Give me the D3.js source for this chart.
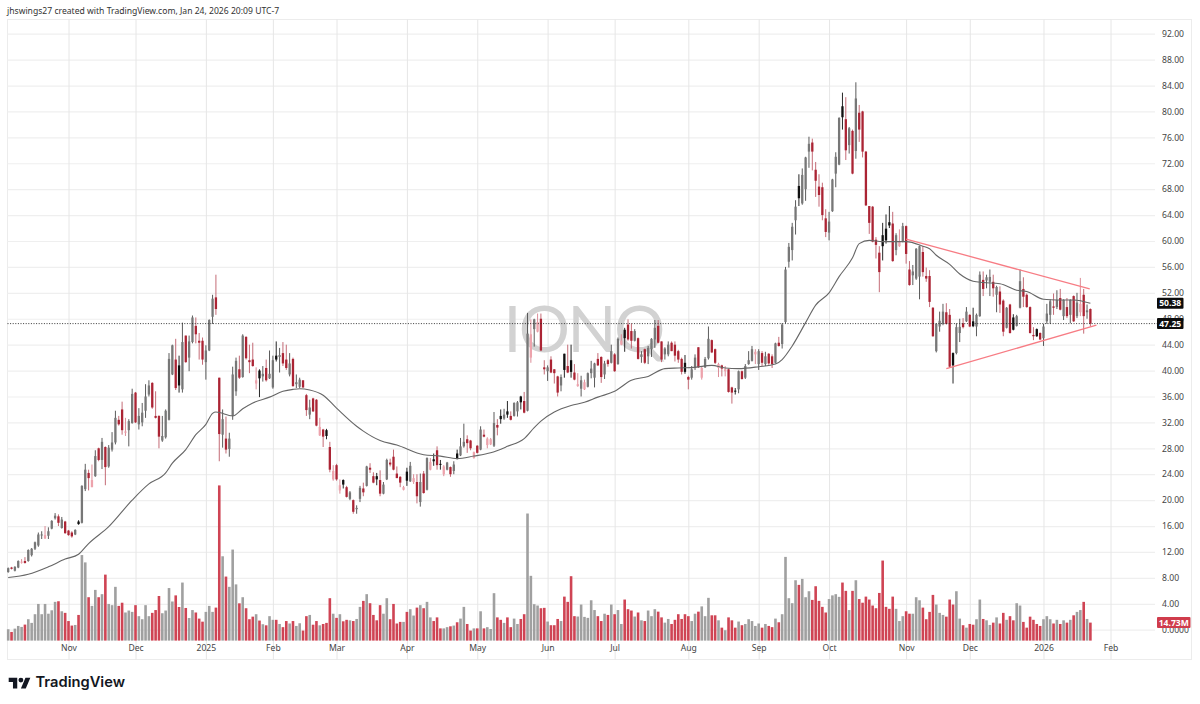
<!DOCTYPE html>
<html>
<head>
<meta charset="utf-8">
<script src="https://d3js.org/d3.v7.min.js"></script>
<style>
  html, body { margin: 0; padding: 0; background: #fff; }
  svg { display: block; }
  text { font-family: "Noto Sans", sans-serif; }
</style>
</head>
<body>
<div id="chart"></div>
<script>
// daily bars, Oct 8 2024 .. Jan 23 2026
const opens = [
  8.9,9.6,9.1,9.6,10.4,10.6,10.6,11.5,12.5,13,
  14.6,14.1,14.5,15.6,17.2,17.5,15.7,16.7,15.3,15,
  14.7,16.7,16.5,21.7,24.2,22,23.7,28,26.2,28.2,
  25.2,27.8,28.9,32.4,34,30.4,30.8,31.9,36.6,31.7,
  32,33.8,36.3,38.1,33,33,29.2,29.7,32.4,39.4,
  41.7,40.8,37.1,45.4,42,44.4,46.9,44.6,44.6,41.3,
  43.1,48.3,51.3,38.9,30.1,29.5,27.9,33,36.8,40.2,
  39,45.2,41.6,41.7,38,40,39.1,40.4,38.8,37.4,
  42.3,42.1,42.7,41.7,39.4,41.8,37.9,37.5,38.5,36.2,
  33.2,35.7,35.5,30,30.9,30.8,28.2,23.2,25.4,21.5,
  23.1,22,20.2,20,18.6,20.2,21.8,22.2,25,23.7,
  23.7,23.1,21,23.2,25.8,26.7,24.1,23.6,21.6,24.4,
  22.9,22.8,22.8,19.7,24.1,21.6,24.7,26.3,27.7,25.6,
  24,24.7,25.1,24.5,27.2,26.9,28.3,29.4,29.2,26.5,
  28.4,27.8,30.1,28.5,28.6,28.4,31.6,33,32.6,33.7,
  33,33,33.7,36,35.3,33.8,42,46.4,46,48,
  40.5,39.9,41.7,40.2,39.1,37.7,42.6,40.7,41.6,39.7,
  37.6,37.2,37.1,37.5,39.6,38.9,41.8,42.1,39.4,41.6,
  41.2,42.5,41,44,46.3,47.1,46.1,44.6,45,42.1,
  43.3,42.2,43.3,44.8,46.9,44.5,42.5,42.5,44.3,44,
  43,41.8,41.2,39,38.9,40.4,43.6,38.9,40.5,41.9,
  44.7,43.3,40.4,40.8,39.9,40.2,37.4,36.9,37.1,39.9,
  38.9,41,41.5,42.5,41,42.7,41,42.6,42.2,41.2,
  44.3,44.1,47.5,56.8,58.6,63.2,68.5,65.8,68,73.8,
  75.2,71,68.4,68.3,63.5,61.3,64.6,70.4,71.8,80.8,
  78.8,74.8,77,73.9,79.8,80,73.8,65.4,65.3,60.2,
  58.2,60.9,61.9,62.9,62.7,58.6,59.2,59.9,62.3,55.6,
  54.7,54.2,54.5,58.3,54.6,54.6,49.7,43,46.8,47.2,
  49,48.6,42.7,42.7,45.8,47.3,47.6,48.6,47.6,46.8,
  48.4,54,53.9,53.7,53.7,51.7,52.2,50.8,46.6,50.2,
  48.2,46.9,49.7,52.6,51.7,49.8,45.5,46.4,45.8,45,
  47.6,48.6,49.9,49.8,51.2,48.4,49.8,48.6,51.5,48.4,
  49,51.7,49,49.5
];
const highs = [
  9.6,9.7,9.8,10.7,10.9,11.2,12.4,12.6,13.6,15,
  15.2,16,15.8,16.9,18,17.8,17.4,16.8,15.4,15.2,
  15.5,16.9,22.3,25.6,24.7,25.5,27.7,28.1,29.6,28.3,
  28.5,30.5,33.8,33,35.2,32.7,32.5,37.2,36.7,34.2,
  35,37.9,38.5,38.2,36.8,33.1,33,34,42.7,44,
  44.9,42.3,47.4,45.4,45.4,48.5,48.2,45.8,45.1,43.9,
  47.9,51.7,54.8,38.9,34,32.9,30.4,40.6,42,42.3,
  45.6,45.3,44,44.3,40.5,40.2,40.7,41.7,43.1,42.3,
  44.5,43.5,44.4,44,42.7,42,39.4,38.9,38.5,36.4,
  35.5,35.8,35.6,32.7,31,31,29,25.4,25.6,23.2,
  23.2,22.2,21.4,20.1,19.2,22.2,22.7,25.3,25.7,24.3,
  24.2,24.6,22.8,26.4,26.4,27.8,25.2,23.7,22.2,25,
  25.9,24,24,24.1,24.5,26.6,26.5,27.2,28.3,26.2,
  25.4,25.9,25.2,26,27.8,29.6,31.8,30,29.3,27.5,
  28.5,31.4,30.9,29.7,29.6,33.6,32.5,34,34.1,35.3,
  33.7,35.1,35.3,36.1,36.7,48.9,47.9,48,48.8,48.8,
  41.6,40.8,42.2,40.2,39.2,39.4,42.6,44,44,41,
  39.6,39.2,38.6,39.7,41.5,41.2,42.7,42.2,41.5,41.8,
  44,42.7,45.1,45.6,46.6,47.9,47.3,46.4,45.1,43,
  43.4,43.8,45,47.8,47.8,44.5,43.6,44.5,44.5,44.5,
  43.2,42,42.4,39.2,40.7,42.5,43.6,40.7,42.1,46.8,
  44.8,43.4,41.2,40.9,40.7,40.3,37.5,37.3,40,40,
  41,43,43.8,43.3,43.3,43,42.9,42.7,42.5,44.3,
  45.2,47.3,56,59.7,62.8,66.3,70.3,71.2,73,76.1,
  75.8,72.2,70.3,69,64.9,64.5,69.6,73.7,79.1,82.9,
  82.2,77.6,77.2,84.5,81,80.1,73.9,65.4,65.4,60.6,
  59.2,62.8,64.1,65.4,64.5,61.2,61.8,62.8,62.4,56.9,
  56.3,58.9,59.3,59.2,55.9,55.5,49.8,47.3,49.1,50.3,
  50.4,49.5,42.8,47.3,48,48.1,49.8,48.7,49.7,48.8,
  55.3,55.3,54.8,55.6,54.8,53.1,53,51,49.8,50.3,
  48.7,48.6,55.6,54.4,51.9,49.9,46.7,46.5,45.9,47.2,
  50.3,51,51.9,52.4,52.6,51,51.2,51,51.6,52,
  54.3,52.6,50.2,49.6
];
const lows = [
  8.8,9.3,9,9.5,10.2,10.2,10.5,11.3,12.3,12.8,
  14,14,14,15.5,17,16,15.6,14.8,14.5,14.2,
  14.6,16.2,16.4,21.4,21.5,22,23.6,26,24.8,22.3,
  25,27.5,28.6,31.5,30.1,29.9,28.3,31.8,31.9,30.9,
  31.4,32.7,36,34.1,32.6,28,29,29.5,32.3,39.3,
  37,36.6,36.6,41.2,39.9,44.2,44.2,41.7,40.9,38.6,
  43,47.2,48.6,26,28.1,27.2,26.7,32.4,36.1,38.7,
  38.9,41.7,39.6,40.6,37.1,35.9,38.3,38.3,38.7,37.2,
  41.4,39.7,40.7,40.1,39.1,37.5,37.3,37.3,37.3,33,
  32.5,33.6,31.4,29.9,28.2,29.4,24.3,23,23,21,
  21.8,20.4,20,17.9,17.9,19.7,20.6,22.1,24.2,22.6,
  22.3,20.6,20.9,23.1,25.2,24.6,23.4,22,21.5,22.2,
  22.8,22.5,19.5,19,21,21.5,24.6,25.3,24.7,24.7,
  23.7,24.6,23.6,24,26.3,26.8,28.1,27.3,27.7,26.4,
  27.2,27.7,29.7,28,28.5,28.2,30,31.8,32.4,32.7,
  32.3,32.9,32.9,34,33.4,33.7,41.2,43.7,45.9,43,
  39.4,38.4,39.6,38,36,36.8,38.9,39.6,38.9,38.5,
  37.5,36,37,37.4,38.8,37.4,40.7,38.1,38.7,40.6,
  41.1,39.8,40.9,43.9,42.9,44.6,43.4,44.5,41.7,41.2,
  41,41,42.1,43.5,44.2,41.3,41.7,42.2,43,41.4,
  41.2,39.4,39.5,37.1,38.6,40.1,40.4,38.6,40.4,41.7,
  42.7,41,39,39.1,39.1,36.6,34.9,36.3,36.5,38.6,
  38.7,40.9,41.4,41,40.1,40.7,40.7,40.9,40.4,41.1,
  43.7,43.4,47.3,55.9,57,61,65.4,65.6,66.2,71.3,
  70.9,66.8,65.3,63.2,60.6,60.1,64.5,68.3,71.7,77.2,
  72.5,73.5,70.3,72.7,75.3,72.9,65.4,61.1,59.8,57.3,
  52.1,57,59.6,62,56.8,57.8,59.1,59.8,56.5,53.1,
  53.2,54,51,54.5,53.7,49.8,45.2,42.8,46,47,
  47.1,40.5,38,42.5,44.4,46.5,47.5,46.7,46.7,45.3,
  48.3,51.5,52.7,51.5,51.4,49,48.9,45.3,46.5,45.7,
  46.2,46.8,49.6,49.8,49.7,45.7,44.7,45.2,44.7,43.8,
  47.2,47.2,48.6,49.5,49.3,47.8,48.1,47.3,47.5,48.1,
  48.4,45.7,48,46.8
];
const closes = [
  9.5,9.4,9.7,10.6,10.5,10.3,12.3,12.5,13.5,14.7,
  14.7,14.6,15.2,16.8,17.6,16.5,17,14.9,14.6,14.4,
  15.4,16.3,22.2,24.7,23.4,23.1,26.8,26.2,29,25.1,
  28.1,28.9,32.7,31.7,30.8,30.6,32.2,36.4,32,33,
  33.5,36,37.7,34.3,32.7,29.8,29.9,33.8,41.8,43.9,
  37.3,37.7,44.4,41.3,44.5,48.2,45.6,44.3,41.7,43.1,
  47.8,51.1,49.5,30.2,32.5,27.8,29.5,39.4,41.5,38.9,
  45.4,41.9,41.3,40.7,38.5,38.8,39.5,38.5,39.5,41.6,
  41.7,42.4,41.1,40.4,41.1,37.6,38.2,38.6,37.4,33.9,
  34.3,33.7,31.5,31.3,29.8,29.9,24.7,24.5,23.2,22.3,
  22.4,20.5,21.2,18.2,18.8,21.9,21.2,25.2,24.7,22.7,
  23.2,21,22.4,26.2,25.5,24.7,23.4,22.7,22,23,
  25.3,23.4,20.6,22.8,21.1,26.5,25.9,26,25.4,25.5,
  25.2,25.8,24,25.5,26.4,28.3,29,28.8,28,27.4,
  27.3,30.9,29.8,29.5,29.4,31.9,31.2,32.5,33.2,33.2,
  32.4,35,35.1,35.1,33.5,45.7,45.6,47.9,47.5,43.1,
  40.2,40.5,39.7,39.6,36.6,39,40.1,39.7,39.8,38.6,
  37.9,38.5,38.2,39.6,40.3,41.1,40.8,39,41.1,41,
  43,39.9,44.9,44.6,45,44.8,44.6,46.1,41.8,42.5,
  41.2,43.5,44.9,46.6,44.3,41.7,43.4,44,43,42.3,
  41.7,39.8,39.8,38.6,40.2,42,40.5,40.4,41.8,44.9,
  42.8,41.2,41,40.3,40.2,36.7,36.6,36.8,39.9,38.7,
  40.7,41.6,43.3,42.9,43,41.2,42.2,41.1,41,44.2,
  43.8,47.1,55.6,59.1,62.2,65.3,66.6,70.2,72.9,75,
  73.8,69.3,67.1,64,61.4,63,69.5,73,79,79.1,
  74,77.4,70.4,82,77.2,73.8,65.5,62.8,59.9,59.4,
  55.2,59.2,60.1,62.4,56.9,60.9,59.9,62.3,58,53.2,
  55.3,58.8,59.2,55.2,54.2,50.6,45.3,47.2,47.7,49.1,
  47.2,40.6,40.8,46.7,46.75,46.7,49.1,46.8,46.85,48.6,
  54.8,52.6,54.4,54.45,52.7,52.9,50.2,46,49.7,45.8,
  46.3,48.4,53.8,51.4,49.8,45.8,45.3,45.3,44.8,46.8,
  48.8,50.7,49.7,50.9,49.4,50.9,48.4,50.9,47.6,50.5,
  50.3,48.4,49.3,47.25
];
// volume in millions
const volumes = [
  9.3,7.1,9.8,12,11.2,13.1,17.5,14.5,21.6,30,
  21.6,30,22,24.8,31.7,32.2,24,22.7,16,12.3,
  12.8,21,70,64,35.5,28.4,41.5,35.5,38,54,
  30,29,44,28.4,31,23,24.6,23.5,29,20,
  17.5,29,20,22.7,25,36.5,22.4,24.6,43,32,
  37,27.5,47.5,26.7,18.5,25,23,18,15.5,23.5,
  28.4,23.5,27,127,69,52.4,44,74.5,46,30.5,
  35.5,26.5,17.5,19.6,21.6,16.4,13.4,12.5,20,17,
  17,13.6,11,16,14,16,12,14.2,8.2,20,
  21,13,16,12.5,13.6,14.5,34.7,22,18.6,21.6,
  15.8,17,16.6,16,17.7,27.6,32.5,38,30.6,21,
  16.6,29,22,34.7,17.5,30,14,15.3,15.3,23.5,
  25.7,20.5,27,29,26.5,31.7,19,16,19,10,
  10,11,11.7,12.3,15,18,27.6,13.6,8.2,10,
  10,24,10,11,9.5,38.8,19,17,14.5,19,
  11,18,13.6,17.7,21.6,104,53,29.8,28.7,26.5,
  26.8,15.6,12.6,12.6,17.7,16,36,31.7,52.7,20,
  19.7,29.5,19.4,18.6,33,25,20,16,22,21,
  29.5,21.6,25,13.6,33.6,25.7,24.6,19.7,23,16.6,
  16,24.6,20,25.7,23.7,19,14.7,17.7,13.6,17,
  21.6,17.7,21.6,20,16,22,23.7,28,20,35,
  20.7,20.7,16.6,10.6,8.5,19,16.6,10.6,15.6,12.6,
  13.6,17.5,16,12,14,10.6,13.6,12,11,18,
  15,21.6,68.5,34.7,30.6,49.4,45.6,50.5,35.5,40.4,
  33.3,44.5,32.5,27.6,23,34,37,38,35.8,47.5,
  40.7,25,40.7,49.4,34,31,36,33.6,28.7,26.5,
  39,65.5,27.6,26,36,26,16,20,24,22,
  22,35.5,33,27,17.5,23.5,37.4,29.5,22.7,21,
  19.6,33.6,29.5,40.4,18,12.6,10.6,13.6,13,17.5,
  33.6,17.7,16.6,12.8,14.7,19,14,22.7,17,20,
  16.6,30.6,28.7,15.3,10.6,19.6,17,13.6,12,17.5,
  20,17.5,14,17,13.6,16.6,14.7,17,20.7,23.5,
  25,31.7,17.7,14.73
];

// moving average, read at these bars
const smaBars = [
  0,6,12,17,21,24,30,37,42,47,49,53,56,59,61,62,67,70,73,78,82,85,87,90,94,98,
  104,106,111,116,124,129,134,139,144,149,154,157,159,163,168,172,176,181,186,
  191,196,200,205,210,214,218,224,229,231,234,238,241,245,248,252,254,257,261,
  268,273,275,277,281,284,288,291,296,301,304,309,313,318,323
];
const smaValues = [
  8.05,8.55,9.7,10.9,11.65,13.3,15.9,20,22.5,24.2,25.7,27.8,30.1,31.7,33.4,33.6,33,34.1,35,35.9,36.8,37.1,37.2,37,36.2,34.2,
  31.4,30.65,29.2,28.5,27,26.8,26.4,26.8,27.3,28.3,29.5,31.2,32.2,33.6,34.6,35.1,35.9,36.8,38.5,
  39.1,40.3,40.4,40.5,40.8,40.4,40.3,40.6,41,41.7,43.8,47.4,50.1,52,54.5,57.4,59.6,60.1,59.9,
  59.9,59.2,58.8,57.8,56.4,54.9,53.8,53.6,53.4,52.4,52.2,51,50.9,50.9,50.38
];

// drawn trend lines, [bar, price] ends
const upperTrend = [[268, 60.3], [322.8, 52.6]];
const lowerTrend = [[280, 40.3], [324.8, 47]];

const priceTicks = d3.range(0, 93, 4);
const monthBars = [18, 38, 59, 79, 98, 119, 140, 161, 181, 203, 224, 245, 268, 287, 309, 329];
const monthLabels = ['Nov', 'Dec', '2025', 'Feb', 'Mar', 'Apr', 'May', 'Jun', 'Jul', 'Aug', 'Sep', 'Oct', 'Nov', 'Dec', '2026', 'Feb'];

const TITLE = 'jhswings27 created with TradingView.com, Jan 24, 2026 20:09 UTC-7';
const SYMBOL = 'IONQ';
const LAST_VOLUME_LABEL = '14.73M';
const LAST_SMA = smaValues[smaValues.length - 1];
const LAST_CLOSE = closes[closes.length - 1];

const WIDTH = 1200;
const HEIGHT = 704;
const LEFT = 7.5;
const TOP = 19.5;
const PANE_RIGHT = 1155;
const RIGHT = 1191.5;
const BOTTOM = 659.5;

const GREY = '#777777';
const GREY_WICK = '#484848';
const RED = '#ab2434';
const RED_WICK = '#bd5a66';
const PINK = '#eda3ac';
const PINK_WICK = '#d8808c';
const BLACK = '#101010';

const x = d3.scaleLinear().domain([18, 329]).range([68.5, 1110.5]);
const y = d3.scaleLinear().domain([0, 92]).range([629.7, 33.7]);
const yVol = d3.scaleLinear().domain([0, 14.73]).range([640.6, 622.6]);

const svg = d3.select('#chart').append('svg')
  .attr('width', WIDTH)
  .attr('height', HEIGHT);

svg.append('rect').attr('width', WIDTH).attr('height', HEIGHT).attr('fill', '#fff');

svg.append('text')
  .attr('x', 7)
  .attr('y', 13.5)
  .attr('font-size', 8.6)
  .attr('fill', '#333')
  .text(TITLE);

svg.append('rect')
  .attr('x', LEFT)
  .attr('y', TOP)
  .attr('width', RIGHT - LEFT)
  .attr('height', BOTTOM - TOP)
  .attr('fill', 'none')
  .attr('stroke', '#ececec');

drawGrid();
drawWatermark();
drawVolume();
drawCandles();
drawSma();
drawTrends();
drawLastPrice();
drawAxes();
drawTags();
drawLogo();

function candleTone(i)
{
  const up = closes[i] >= opens[i];
  const above = i === 0 || closes[i] >= closes[i - 1];
  if (up && above) return {body: GREY, wick: GREY_WICK};
  if (up) return {body: PINK, wick: PINK_WICK};
  if (above) return {body: BLACK, wick: BLACK};
  return {body: RED, wick: RED_WICK};
}

function drawGrid()
{
  const hGrid = d3.axisRight(y)
    .tickValues(priceTicks)
    .tickSize(PANE_RIGHT - LEFT)
    .tickFormat('');
  const vGrid = d3.axisBottom(x)
    .tickValues(monthBars)
    .tickSize(BOTTOM - TOP)
    .tickFormat('');

  const h = svg.append('g').attr('transform', `translate(${LEFT},0)`).call(hGrid);
  h.select('.domain').remove();
  h.selectAll('line').attr('stroke', '#efefef').attr('stroke-width', 1.2);

  const v = svg.append('g').attr('transform', `translate(0,${TOP})`).call(vGrid);
  v.select('.domain').remove();
  v.selectAll('line').attr('stroke', '#e6e6e6').attr('stroke-width', 1);
}

function drawWatermark()
{
  svg.append('text')
    .attr('x', 583)
    .attr('y', 352)
    .attr('text-anchor', 'middle')
    .attr('font-size', 64)
    .attr('font-weight', 400)
    .attr('letter-spacing', -2.5)
    .attr('fill', '#d2d2d2')
    .style('font-family', 'Lato, sans-serif')
    .text(SYMBOL);
}

function drawVolume()
{
  svg.append('g').selectAll('rect')
    .data(volumes)
    .enter()
    .append('rect')
    .attr('x', function(d, i) { return x(i) - 1.3; })
    .attr('y', function(d) { return yVol(d); })
    .attr('width', 2.6)
    .attr('height', function(d) { return yVol(0) - yVol(d); })
    .attr('fill', function(d, i) { return closes[i] < opens[i] ? '#cf4454' : '#a0a0a0'; });
}

function drawCandles()
{
  const g = svg.append('g');
  g.selectAll('line')
    .data(closes)
    .enter()
    .append('line')
    .attr('x1', function(d, i) { return x(i); })
    .attr('x2', function(d, i) { return x(i); })
    .attr('y1', function(d, i) { return y(highs[i]); })
    .attr('y2', function(d, i) { return y(lows[i]); })
    .attr('stroke', function(d, i) { return candleTone(i).wick; })
    .attr('stroke-width', 0.9);
  g.selectAll('rect')
    .data(closes)
    .enter()
    .append('rect')
    .attr('x', function(d, i) { return x(i) - 1.15; })
    .attr('y', function(d, i) { return y(Math.max(opens[i], closes[i])); })
    .attr('width', 2.3)
    .attr('height', function(d, i) { return Math.max(1, Math.abs(y(opens[i]) - y(closes[i]))); })
    .attr('fill', function(d, i) { return candleTone(i).body; });
}

function drawSma()
{
  const line = d3.line()
    .x(function(d, i) { return x(d); })
    .y(function(d, i) { return y(smaValues[i]); })
    .curve(d3.curveMonotoneX);
  svg.append('path')
    .attr('d', line(smaBars))
    .attr('fill', 'none')
    .attr('stroke', '#666')
    .attr('stroke-width', 1.1);
}

function drawTrends()
{
  const line = d3.line()
    .x(function(d) { return x(d[0]); })
    .y(function(d) { return y(d[1]); });
  [upperTrend, lowerTrend].forEach(function(trend) {
    svg.append('path')
      .attr('d', line(trend))
      .attr('fill', 'none')
      .attr('stroke', '#f77c84')
      .attr('stroke-width', 1.3);
  });
}

function drawLastPrice()
{
  svg.append('line')
    .attr('x1', LEFT)
    .attr('x2', PANE_RIGHT + 2)
    .attr('y1', y(LAST_CLOSE))
    .attr('y2', y(LAST_CLOSE))
    .attr('stroke', '#222')
    .attr('stroke-width', 0.9)
    .attr('stroke-dasharray', '1 1.6');
}

function drawAxes()
{
  const priceAxis = d3.axisRight(y)
    .tickValues(priceTicks)
    .tickSize(0)
    .tickPadding(0)
    .tickFormat(function(d) { return d === 0 ? '0.0000' : d.toFixed(2); });
  const p = svg.append('g').attr('transform', 'translate(1162,0)').call(priceAxis);
  p.select('.domain').remove();
  p.selectAll('text').attr('font-size', 8.6).attr('fill', '#444').style('font-family', '"Noto Sans", sans-serif');

  const timeAxis = d3.axisBottom(x)
    .tickValues(monthBars)
    .tickSize(0)
    .tickPadding(0)
    .tickFormat(function(d, i) { return monthLabels[i]; });
  const t = svg.append('g').attr('transform', 'translate(0,645)').call(timeAxis);
  t.select('.domain').remove();
  t.selectAll('text').attr('font-size', 8.6).attr('fill', '#444').style('font-family', '"Noto Sans", sans-serif');
}

function priceTag(yPos, text, width, fill)
{
  svg.append('rect')
    .attr('x', 1157)
    .attr('y', yPos - 5.5)
    .attr('width', width)
    .attr('height', 11)
    .attr('rx', 1)
    .attr('fill', fill);
  svg.append('text')
    .attr('x', 1157 + width / 2)
    .attr('y', yPos + 3)
    .attr('text-anchor', 'middle')
    .attr('font-size', 8.6)
    .attr('font-weight', 700)
    .attr('fill', '#fff')
    .text(text);
}

function drawTags()
{
  priceTag(y(LAST_SMA), LAST_SMA.toFixed(2), 26.5, '#0c0c0c');
  priceTag(y(LAST_CLOSE), LAST_CLOSE.toFixed(2), 26.5, '#0c0c0c');
  priceTag(yVol(volumes[volumes.length - 1]), LAST_VOLUME_LABEL, 33.5, '#d03c4c');
}

function drawLogo()
{
  const g = svg.append('g').attr('transform', 'translate(8.7,675.2) scale(0.61)');
  g.append('path').attr('d', 'M14 22H7V11H0V4h14v18zM28 22h-8l7.5-18h8L28 22z').attr('fill', '#131722');
  g.append('circle').attr('cx', 20).attr('cy', 8).attr('r', 4).attr('fill', '#131722');
  svg.append('text')
    .attr('x', 35.5)
    .attr('y', 687)
    .attr('font-size', 14.7)
    .attr('font-weight', 600)
    .attr('fill', '#131722')
    .style('font-family', 'Inter, sans-serif')
    .text('TradingView');
}
</script>
</body>
</html>
